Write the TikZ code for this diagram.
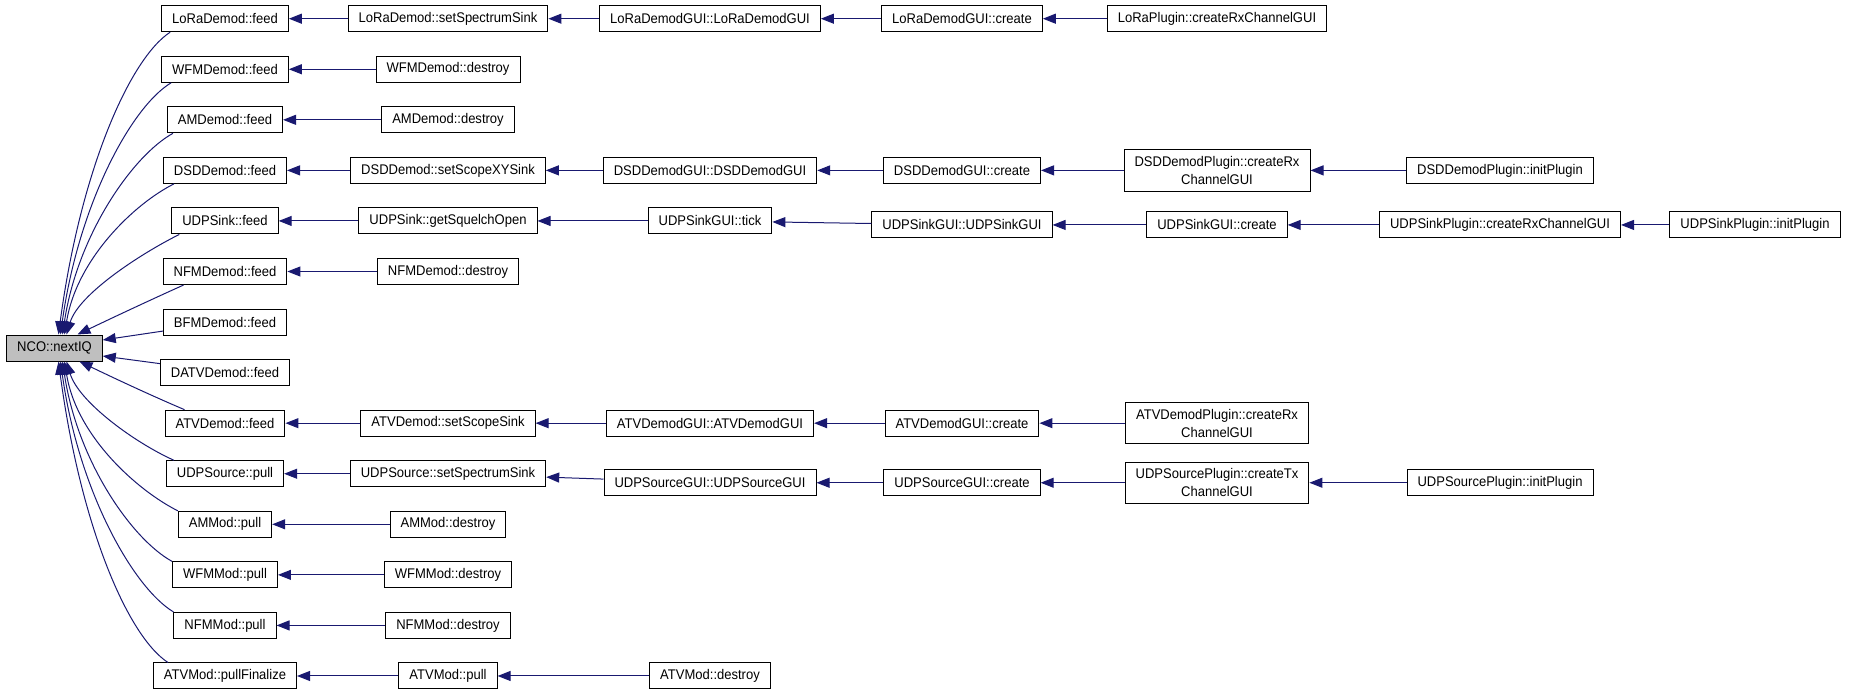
\documentclass[tikz,border=0pt]{standalone}
\usepackage{fontspec}
\setmainfont{Liberation Sans}[FakeStretch=0.93]
\usepackage{tikz}
\usetikzlibrary{arrows.meta,positioning}
\definecolor{callblue}{HTML}{191970}
\definecolor{focusgray}{HTML}{BFBFBF}

\begin{document}
\begin{tikzpicture}[x=1pt, y=-1pt, node distance=50.56pt,
    fn/.style={rectangle, draw=black, fill=white, line width=1pt,
        inner xsep=10.5pt, inner ysep=4pt, minimum height=26pt,
        font=\fontsize{14}{18}\selectfont, align=center},
    fntwo/.style={fn, inner ysep=6.5pt},
    focus/.style={fn, fill=focusgray},
    call/.style={draw=callblue, line width=1pt, {Triangle[length=13pt, width=10pt]}-}
    ]
    \useasboundingbox (0,0) rectangle (1851,696);

    % Nodes
    \node [focus] (nco) at (54.5,348) {NCO::nextIQ};
    \node [fn] (lorafeed) at (225,18.7) {LoRaDemod::feed};
    \node [fn, below of=lorafeed] (wfmfeed) {WFMDemod::feed};
    \node [fn, below of=wfmfeed] (amfeed) {AMDemod::feed};
    \node [fn, below of=amfeed] (dsdfeed) {DSDDemod::feed};
    \node [fn, below of=dsdfeed] (udpsinkfeed) {UDPSink::feed};
    \node [fn, below of=udpsinkfeed] (nfmfeed) {NFMDemod::feed};
    \node [fn, below of=nfmfeed] (bfmfeed) {BFMDemod::feed};
    \node [fn, below of=bfmfeed] (datvfeed) {DATVDemod::feed};
    \node [fn, below of=datvfeed] (atvfeed) {ATVDemod::feed};
    \node [fn, below of=atvfeed] (udpsrcpull) {UDPSource::pull};
    \node [fn, below of=udpsrcpull] (ammodpull) {AMMod::pull};
    \node [fn, below of=ammodpull] (wfmmodpull) {WFMMod::pull};
    \node [fn, below of=wfmmodpull] (nfmmodpull) {NFMMod::pull};
    \node [fn, below of=nfmmodpull] (atvfinal) {ATVMod::pullFinalize};

    \node [fn, right of=lorafeed, node distance=223pt] (lorasink) {LoRaDemod::setSpectrumSink};
    \node [fn, right of=lorasink, node distance=262pt] (loragui) {LoRaDemodGUI::LoRaDemodGUI};
    \node [fn, right of=loragui, node distance=252pt] (loracreate) {LoRaDemodGUI::create};
    \node [fn, right of=loracreate, node distance=255pt] (loraplugin) {LoRaPlugin::createRxChannelGUI};

    \node [fn, right of=wfmfeed, node distance=223pt] (wfmdestroy) {WFMDemod::destroy};
    \node [fn, right of=amfeed, node distance=223pt] (amdestroy) {AMDemod::destroy};

    \node [fn, right of=dsdfeed, node distance=223pt] (dsdsink) {DSDDemod::setScopeXYSink};
    \node [fn, right of=dsdsink, node distance=262pt] (dsdgui) {DSDDemodGUI::DSDDemodGUI};
    \node [fn, right of=dsdgui, node distance=252pt] (dsdcreate) {DSDDemodGUI::create};
    \node [fntwo, right of=dsdcreate, node distance=255pt] (dsdplugin) {DSDDemodPlugin::createRx\\ChannelGUI};
    \node [fn, right of=dsdplugin, node distance=283pt] (dsdinit) {DSDDemodPlugin::initPlugin};

    \node [fn, right of=udpsinkfeed, node distance=223pt] (squelch) {UDPSink::getSquelchOpen};
    \node [fn, right of=squelch, node distance=262pt] (tick) {UDPSinkGUI::tick};
    \node [fn, right of=tick, node distance=252pt, yshift=-4pt] (udpsinkgui) {UDPSinkGUI::UDPSinkGUI};
    \node [fn, right of=udpsinkgui, node distance=255pt] (udpsinkcreate) {UDPSinkGUI::create};
    \node [fn, right of=udpsinkcreate, node distance=283pt] (udpsinkplugin) {UDPSinkPlugin::createRxChannelGUI};
    \node [fn, right of=udpsinkplugin, node distance=255pt] (udpsinkinit) {UDPSinkPlugin::initPlugin};

    \node [fn, right of=nfmfeed, node distance=223pt] (nfmdestroy) {NFMDemod::destroy};

    \node [fn, right of=atvfeed, node distance=223pt] (atvsink) {ATVDemod::setScopeSink};
    \node [fn, right of=atvsink, node distance=262pt] (atvgui) {ATVDemodGUI::ATVDemodGUI};
    \node [fn, right of=atvgui, node distance=252pt] (atvcreate) {ATVDemodGUI::create};
    \node [fntwo, right of=atvcreate, node distance=255pt] (atvplugin) {ATVDemodPlugin::createRx\\ChannelGUI};

    \node [fn, right of=udpsrcpull, node distance=223pt] (udpsrcsink) {UDPSource::setSpectrumSink};
    \node [fn, right of=udpsrcsink, node distance=262pt, yshift=-9pt] (udpsrcgui) {UDPSourceGUI::UDPSourceGUI};
    \node [fn, right of=udpsrcgui, node distance=252pt] (udpsrccreate) {UDPSourceGUI::create};
    \node [fntwo, right of=udpsrccreate, node distance=255pt] (udpsrcplugin) {UDPSourcePlugin::createTx\\ChannelGUI};
    \node [fn, right of=udpsrcplugin, node distance=283pt] (udpsrcinit) {UDPSourcePlugin::initPlugin};

    \node [fn, right of=ammodpull, node distance=223pt] (ammoddestroy) {AMMod::destroy};
    \node [fn, right of=wfmmodpull, node distance=223pt] (wfmmoddestroy) {WFMMod::destroy};
    \node [fn, right of=nfmmodpull, node distance=223pt] (nfmmoddestroy) {NFMMod::destroy};

    \node [fn, right of=atvfinal, node distance=223pt] (atvpull) {ATVMod::pull};
    \node [fn, right of=atvpull, node distance=262pt] (atvdestroy) {ATVMod::destroy};

    % Calls into NCO::nextIQ
    \draw[call] ([xshift=4pt]nco.north) .. controls +(22,-165) and +(-40,26) .. ([xshift=9pt]lorafeed.south west);
    \draw[call] ([xshift=6pt]nco.north) .. controls +(18,-130) and +(-40,24) .. ([xshift=10pt]wfmfeed.south west);
    \draw[call] ([xshift=8pt]nco.north) .. controls +(15,-100) and +(-40,22) .. ([xshift=6pt]amfeed.south west);
    \draw[call] ([xshift=10pt]nco.north) .. controls +(12,-75) and +(-40,20) .. ([xshift=11pt]dsdfeed.south west);
    \draw[call] ([xshift=12pt]nco.north) .. controls +(12,-40) and +(-40,20) .. ([xshift=8pt]udpsinkfeed.south west);
    \draw[call] ([xshift=23pt]nco.north) .. controls +(25,-12) and +(-40,18) .. ([xshift=21pt]nfmfeed.south west);
    \draw[call] ([yshift=8pt]nco.east) -- ([yshift=-9pt]bfmfeed.west);
    \draw[call] ([yshift=-8pt]nco.east) -- ([yshift=9pt]datvfeed.west);
    \draw[call] ([xshift=25pt]nco.south) .. controls +(25,12) and +(-40,-17) .. ([xshift=20pt]atvfeed.north west);
    \draw[call] ([xshift=12pt]nco.south) .. controls +(12,40) and +(-40,-18) .. ([xshift=8pt]udpsrcpull.north west);
    \draw[call] ([xshift=10pt]nco.south) .. controls +(12,75) and +(-40,-20) .. (ammodpull.north west);
    \draw[call] ([xshift=8pt]nco.south) .. controls +(15,100) and +(-40,-22) .. (wfmmodpull.north west);
    \draw[call] ([xshift=6pt]nco.south) .. controls +(18,130) and +(-40,-24) .. (nfmmodpull.north west);
    \draw[call] ([xshift=4pt]nco.south) .. controls +(22,165) and +(-40,-26) .. ([xshift=15pt]atvfinal.north west);

    % Caller chains
    \draw[call] (lorafeed) -- (lorasink);
    \draw[call] (lorasink) -- (loragui);
    \draw[call] (loragui) -- (loracreate);
    \draw[call] (loracreate) -- (loraplugin);
    \draw[call] (wfmfeed) -- (wfmdestroy);
    \draw[call] (amfeed) -- (amdestroy);
    \draw[call] (dsdfeed) -- (dsdsink);
    \draw[call] (dsdsink) -- (dsdgui);
    \draw[call] (dsdgui) -- (dsdcreate);
    \draw[call] (dsdcreate) -- (dsdplugin);
    \draw[call] (dsdplugin) -- (dsdinit);
    \draw[call] (udpsinkfeed) -- (squelch);
    \draw[call] (squelch) -- (tick);
    \draw[call] (tick) -- (udpsinkgui);
    \draw[call] (udpsinkgui) -- (udpsinkcreate);
    \draw[call] (udpsinkcreate) -- (udpsinkplugin);
    \draw[call] (udpsinkplugin) -- (udpsinkinit);
    \draw[call] (nfmfeed) -- (nfmdestroy);
    \draw[call] (atvfeed) -- (atvsink);
    \draw[call] (atvsink) -- (atvgui);
    \draw[call] (atvgui) -- (atvcreate);
    \draw[call] (atvcreate) -- (atvplugin);
    \draw[call] (udpsrcpull) -- (udpsrcsink);
    \draw[call] (udpsrcsink) -- (udpsrcgui);
    \draw[call] (udpsrcgui) -- (udpsrccreate);
    \draw[call] (udpsrccreate) -- (udpsrcplugin);
    \draw[call] (udpsrcplugin) -- (udpsrcinit);
    \draw[call] (ammodpull) -- (ammoddestroy);
    \draw[call] (wfmmodpull) -- (wfmmoddestroy);
    \draw[call] (nfmmodpull) -- (nfmmoddestroy);
    \draw[call] (atvfinal) -- (atvpull);
    \draw[call] (atvpull) -- (atvdestroy);
\end{tikzpicture}
\end{document}
